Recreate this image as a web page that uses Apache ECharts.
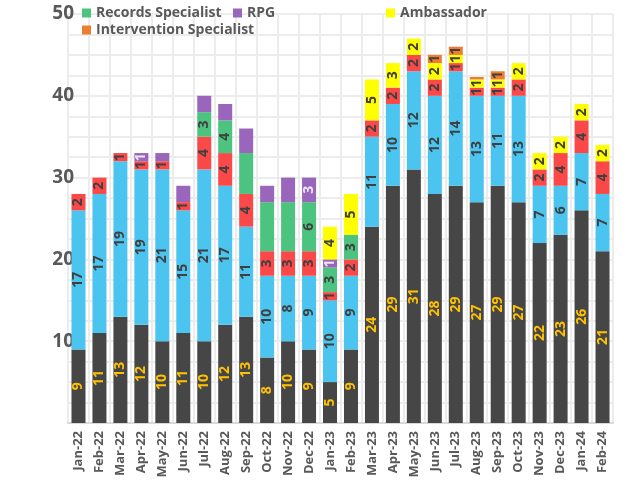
<!DOCTYPE html>
<html>
<head>
<meta charset="utf-8">
<script src="https://cdn.jsdelivr.net/npm/echarts@6/dist/echarts.min.js"></script>
<style>
  html, body { margin: 0; padding: 0; background: #fff; }
  #chartBox { width: 629px; height: 483px; }
</style>
</head>
<body>
<div id="chartBox"></div>
<script>
// months on the x axis
var months = ['Jan-22','Feb-22','Mar-22','Apr-22','May-22','Jun-22','Jul-22','Aug-22','Sep-22','Oct-22','Nov-22','Dec-22',
              'Jan-23','Feb-23','Mar-23','Apr-23','May-23','Jun-23','Jul-23','Aug-23','Sep-23','Oct-23','Nov-23','Dec-23','Jan-24','Feb-24'];

// stacked series, bottom to top
var baseVals   = [9,11,13,12,10,11,10,12,13,8,10,9,5,9,24,29,31,28,29,27,29,27,22,23,26,21];
var blueVals   = [17,17,19,19,21,15,21,17,11,10,8,9,10,9,11,10,12,12,14,13,11,13,7,6,7,7];
var redVals    = [2,2,1,1,1,1,4,4,4,3,3,3,1,2,2,2,2,2,1,1,1,2,2,4,4,4];
var recordsVals = [0,0,0,0,0,0,3,4,5,6,6,6,3,3,0,0,0,0,0,0,0,0,0,0,0,0];
var rpgVals    = [0,0,0,1,1,2,2,2,3,2,3,3,1,0,0,0,0,0,0,0,0,0,0,0,0,0];
var ambVals    = [0,0,0,0,0,0,0,0,0,0,0,0,4,5,5,3,2,2,1,1,1,2,2,2,2,2];
var intervVals = [0,0,0,0,0,0,0,0,0,0,0,0,0,0,0,0,0,1,1,0.3,1,0,0,0,0,0];

// points whose data label is not shown in the picture
var recordsNoLabel = [8,9,10];
var rpgNoLabel = [4,5,6,7,8,9,10];

function toData(vals, noLabel) {
  return vals.map(function (v, i) {
    var item = { value: v === 0 ? null : v };
    if ((noLabel && noLabel.indexOf(i) >= 0) || v < 0.5) item.label = { show: false };
    return item;
  });
}

var labelBase = {
  show: true,
  position: 'inside',
  rotate: 90,
  fontSize: 14,
  fontWeight: 'bold',
  fontFamily: 'Open Sans',
  color: '#404040'
};

function mkSeries(name, vals, color, labelColor, noLabel) {
  return {
    name: name,
    type: 'bar',
    stack: 'total',
    barWidth: 14,
    data: toData(vals, noLabel),
    itemStyle: { color: color },
    label: Object.assign({}, labelBase, { color: labelColor })
  };
}

var myChart = echarts.init(document.getElementById('chartBox'));

var legendText = { color: '#595959', fontSize: 14, fontWeight: 'bold', fontFamily: 'Open Sans' };
function mkLegend(name, left, top) {
  return {
    data: [name], left: left, top: top, icon: 'rect',
    itemWidth: 9, itemHeight: 9, itemGap: 4,
    textStyle: legendText, padding: 0
  };
}

myChart.setOption({
  animation: false,
  legend: [
    mkLegend('Records Specialist', 82, 6),
    mkLegend('RPG', 233, 6),
    mkLegend('Ambassador', 386, 6),
    mkLegend('Intervention Specialist', 82, 23)
  ],
  grid: { left: 68, right: 16, top: 14, bottom: 60 },
  xAxis: {
    type: 'category',
    data: months,
    axisTick: { show: false },
    axisLine: { lineStyle: { color: '#d9d9d9', width: 2 } },
    splitLine: { show: true, interval: 0, lineStyle: { color: '#ececec', width: 2 } },
    axisLabel: {
      interval: 0, rotate: 90, margin: 8,
      color: '#595959', fontSize: 13, fontWeight: 'bold', fontFamily: 'Open Sans'
    }
  },
  yAxis: {
    type: 'value',
    min: 0, max: 50, interval: 10,
    axisLine: { show: false },
    axisTick: { show: false },
    splitLine: { lineStyle: { color: '#ececec', width: 2 } },
    minorTick: { show: false, splitNumber: 4 },
    minorSplitLine: { show: true, lineStyle: { color: '#ececec', width: 2 } },
    axisLabel: {
      margin: -6,
      color: '#595959', fontSize: 19, fontWeight: 'bold', fontFamily: 'Open Sans',
      formatter: function (v) { return v === 0 ? '' : String(v); }
    }
  },
  series: [
    mkSeries('Base', baseVals, '#464646', '#ffc000'),
    mkSeries('Blue', blueVals, '#4bc5f0', '#404040'),
    mkSeries('Red', redVals, '#fb4848', '#404040'),
    mkSeries('Records Specialist', recordsVals, '#4cc47f', '#404040', recordsNoLabel),
    mkSeries('RPG', rpgVals, '#9966bb', '#ece4f4', rpgNoLabel),
    mkSeries('Ambassador', ambVals, '#ffff00', '#404040'),
    mkSeries('Intervention Specialist', intervVals, '#ed7d31', '#404040')
  ]
});
</script>
</body>
</html>
